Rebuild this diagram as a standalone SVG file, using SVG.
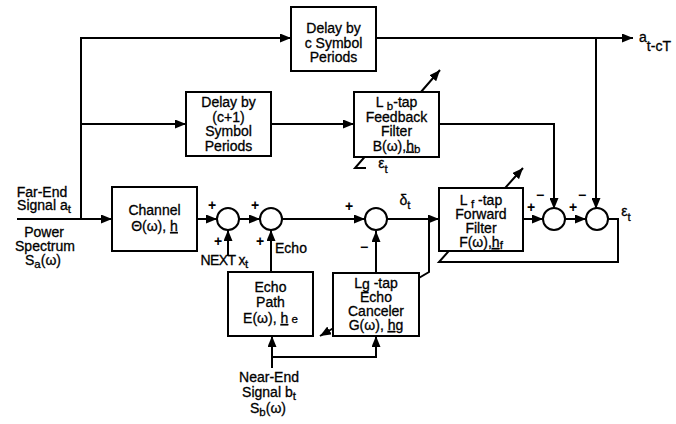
<svg xmlns="http://www.w3.org/2000/svg" width="676" height="424" viewBox="0 0 676 424">
<style>
.t{font-family:"Liberation Sans",Arial,sans-serif;font-size:14px;fill:#000;text-anchor:middle;stroke:#000;stroke-width:0.3}
.s{font-size:11.5px}
.pm{font-family:"Liberation Sans",Arial,sans-serif;font-size:14px;font-weight:bold;fill:#000;text-anchor:middle}
.box{fill:#fff;stroke:#000;stroke-width:2}
.sum{fill:#fff;stroke:#000;stroke-width:2}
.ln{fill:none;stroke:#000;stroke-width:2}
.u{text-decoration:underline}
</style>
<defs>
<marker id="ah" markerUnits="userSpaceOnUse" markerWidth="11" markerHeight="9" refX="11" refY="4.5" orient="auto">
<path d="M0,0 L11,4.5 L0,9 z" fill="#000"/>
</marker>
</defs>
<rect width="676" height="424" fill="#fff"/>

<g id="connectors" class="ln">
<path d="M17,219 H112" marker-end="url(#ah)"/>
<path d="M81,219 V38 H291" marker-end="url(#ah)"/>
<path d="M81,124 H186" marker-end="url(#ah)"/>
<path d="M271,124 H354" marker-end="url(#ah)"/>
<path d="M376,38 H633" marker-end="url(#ah)"/>
<path d="M596,38 V209" marker-end="url(#ah)"/>
<path d="M439,124 H554 V209" marker-end="url(#ah)"/>
<path d="M197,219 H217" marker-end="url(#ah)"/>
<path d="M239,219 H260" marker-end="url(#ah)"/>
<path d="M282,219 H365" marker-end="url(#ah)"/>
<path d="M387,219 H439" marker-end="url(#ah)"/>
<path d="M523,219 H543" marker-end="url(#ah)"/>
<path d="M565,219 H586" marker-end="url(#ah)"/>
<path d="M608,219 H618 V262 H439 L523,168" marker-end="url(#ah)"/>
<path d="M366,168 H355 L440,70" marker-end="url(#ah)"/>
<path d="M429,219 V272 L320,336" marker-end="url(#ah)"/>
<path d="M228,256 V230" marker-end="url(#ah)"/>
<path d="M271,272 V230" marker-end="url(#ah)"/>
<path d="M376,273 V231" marker-end="url(#ah)"/>
<path d="M272,368 V336" marker-end="url(#ah)"/>
<path d="M272,357 H376 V336" marker-end="url(#ah)"/>
</g>

<g id="delay-c">
<rect class="box" x="291" y="7" width="85" height="64"/>
<text class="t" x="333.5" y="33">Delay by</text>
<text class="t" x="333.5" y="47.5">c Symbol</text>
<text class="t" x="333.5" y="62">Periods</text>
</g>

<g id="delay-c1">
<rect class="box" x="186" y="92" width="85" height="64"/>
<text class="t" x="228.5" y="107">Delay by</text>
<text class="t" x="228.5" y="121.5">(c+1)</text>
<text class="t" x="228.5" y="136">Symbol</text>
<text class="t" x="228.5" y="150.5">Periods</text>
</g>

<g id="feedback-filter">
<rect class="box" x="354" y="92" width="85" height="65"/>
<text class="t" x="396.5" y="107">L <tspan class="s" dy="3">b</tspan><tspan dy="-3">-tap</tspan></text>
<text class="t" x="396.5" y="122">Feedback</text>
<text class="t" x="396.5" y="136">Filter</text>
<text class="t" x="396.5" y="150.5">B(ω),<tspan class="u">h</tspan><tspan class="s" dy="2">b</tspan></text>
</g>

<g id="channel">
<rect class="box" x="112" y="187" width="85" height="64"/>
<text class="t" x="154.5" y="215">Channel</text>
<text class="t" x="154.5" y="231">Θ(ω), <tspan class="u">h</tspan></text>
</g>

<g id="echo-path">
<rect class="box" x="228" y="272" width="85" height="64"/>
<text class="t" x="270.5" y="292">Echo</text>
<text class="t" x="270.5" y="307">Path</text>
<text class="t" x="270.5" y="323">E(ω), <tspan class="u">h</tspan><tspan class="s"> e</tspan></text>
</g>

<g id="echo-canceler">
<rect class="box" x="333" y="273" width="86" height="63"/>
<text class="t" x="376" y="288">L<tspan dy="1">g</tspan><tspan dy="-1"> -tap</tspan></text>
<text class="t" x="376" y="302">Echo</text>
<text class="t" x="376" y="316">Canceler</text>
<text class="t" x="376" y="330">G(ω), <tspan class="u">h</tspan>g</text>
</g>

<g id="forward-filter">
<rect class="box" x="439" y="188" width="84" height="63"/>
<text class="t" x="481" y="205">L <tspan class="s" dy="3">f</tspan><tspan dy="-3"> -tap</tspan></text>
<text class="t" x="481" y="219">Forward</text>
<text class="t" x="481" y="233">Filter</text>
<text class="t" x="481" y="247">F(ω),<tspan class="u">h</tspan><tspan class="s" dy="2">f</tspan></text>
</g>

<g id="sum1">
<circle class="sum" cx="228" cy="219" r="11"/>
<text class="pm" x="212" y="210">+</text>
<text class="pm" x="218" y="246">+</text>
</g>
<g id="sum2">
<circle class="sum" cx="271" cy="219" r="11"/>
<text class="pm" x="255" y="210">+</text>
<text class="pm" x="260" y="246">+</text>
</g>
<g id="sum3">
<circle class="sum" cx="376" cy="219" r="11"/>
<text class="pm" x="349" y="211">+</text>
<text class="pm" x="364" y="252">−</text>
</g>
<g id="sum4">
<circle class="sum" cx="554" cy="219" r="11"/>
<text class="pm" x="531" y="212">+</text>
<text class="pm" x="540" y="200">−</text>
</g>
<g id="sum5">
<circle class="sum" cx="597" cy="219" r="11"/>
<text class="pm" x="573" y="212">+</text>
<text class="pm" x="582" y="200">−</text>
</g>

<g id="labels">
<text class="t" x="42" y="197">Far-End</text>
<text class="t" x="44" y="210">Signal a<tspan class="s" dy="3">t</tspan></text>
<text class="t" x="44" y="237">Power</text>
<text class="t" x="45" y="251">Spectrum</text>
<text class="t" x="43" y="265">S<tspan class="s" dy="3">a</tspan><tspan dy="-3">(ω)</tspan></text>
<text class="t" x="224" y="265" style="letter-spacing:-0.6px">NEXT x<tspan class="s" dy="3">t</tspan></text>
<text class="t" x="291" y="253">Echo</text>
<text class="t" x="405" y="205">δ<tspan class="s" dy="4">t</tspan></text>
<text class="t" x="626" y="216">ε<tspan class="s" dy="5">t</tspan></text>
<text class="t" x="383" y="168">ε<tspan class="s" dy="5">t</tspan></text>
<text class="t" x="655" y="42">a<tspan dy="9">t-cT</tspan></text>
<text class="t" x="269" y="382">Near-End</text>
<text class="t" x="269" y="397">Signal b<tspan class="s" dy="3">t</tspan></text>
<text class="t" x="268" y="413">S<tspan class="s" dy="3">b</tspan><tspan dy="-3">(ω)</tspan></text>
</g>
</svg>
